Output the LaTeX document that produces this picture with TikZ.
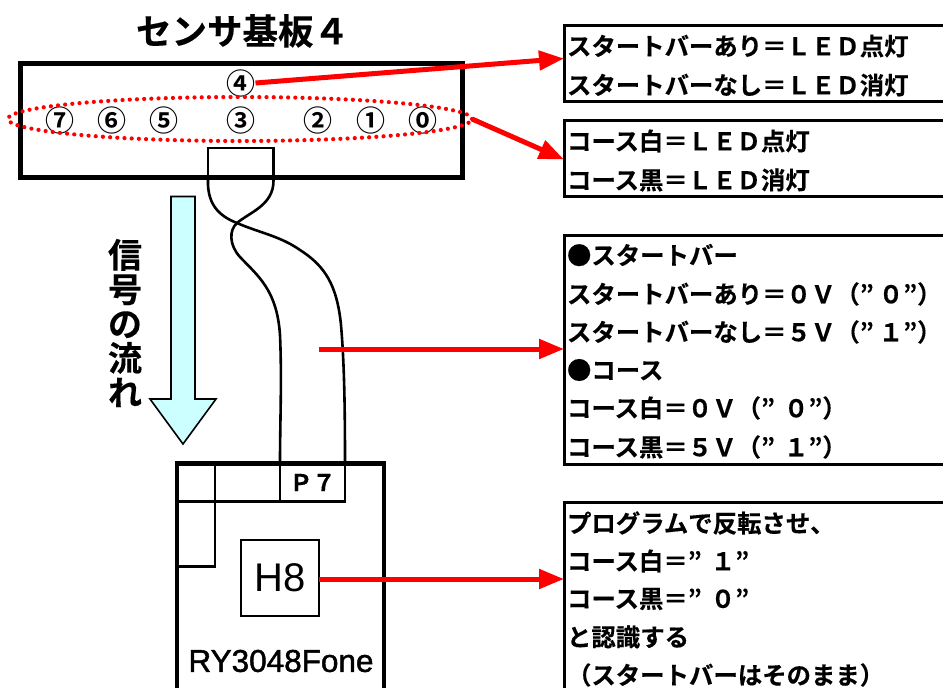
\documentclass[tikz,border=0pt]{standalone}
\usepackage{fontspec}
\usetikzlibrary{arrows.meta}
\setmainfont{Liberation Sans}
\newfontfamily\jpb[FakeBold=0.3]{Noto Sans CJK JP Bold}
\newfontfamily\jpm{Noto Sans CJK JP Bold}
\newfontfamily\lsb[FakeBold=1.5]{Liberation Sans}
\definecolor{flowcyan}{RGB}{204,255,255}
\newcommand{\qgap}{\hspace{9pt}}
\tikzset{
  every node/.style={outer sep=0pt},
  infobox/.style={draw=black,line width=3pt,anchor=north west,inner sep=0,fill=white},
  infotext/.style={anchor=west,inner sep=0,align=left,font=\jpb\fontsize{24.4}{24.4}\selectfont},
  redarrow/.style={draw=red,line width=5pt,-{Triangle[length=25pt,width=19pt]}},
  thickbox/.style={draw=black,line width=4.4pt,anchor=north west,inner sep=0},
  thinbox/.style={draw=black,line width=2.3pt,anchor=north west,inner sep=0},
  wire/.style={draw=black,line width=2.6pt},
  pin/.style={inner sep=0,font=\jpm\fontsize{29}{29}\selectfont},
}
\begin{document}
\begin{tikzpicture}[x=1pt,y=-1pt]
\useasboundingbox (0,0) rectangle (943,688);
\clip (0,0) rectangle (943,688);
% title
\node[inner sep=0,font=\jpb\fontsize{35.5}{35.5}\selectfont] (title) at (242.5,31) {センサ基板４};
% sensor board
\node[thickbox,minimum width=442pt,minimum height=114pt] (board) at (20.5,63.5) {};
\node[thinbox,minimum width=65.5pt,minimum height=29pt] (conn) at (208,148) {};
\node[pin] (s4) at (241,83) {④};
\node[pin] (s7) at (60,120) {⑦};
\node[pin] (s6) at (112,120) {⑥};
\node[pin] (s5) at (164,120) {⑤};
\node[pin] (s3) at (241,120) {③};
\node[pin] (s2) at (318,120) {②};
\node[pin] (s1) at (371,120) {①};
\node[pin] (s0) at (423,120) {⓪};
\coordinate (ringE) at (472,119);
\draw[red,line width=4.2pt,line cap=round,dash pattern=on 0pt off 7.2pt] (240,119) ++(232,0) arc[start angle=0,end angle=360,x radius=232,y radius=-22];
% flow arrow
\draw[draw=black,line width=1.6pt,fill=flowcyan] (171,196.5) -- (195,196.5) -- (195,399) -- (216,399) -- (183,444) -- (150,399) -- (171,399) -- cycle;
\node[inner sep=0,align=center,font=\jpb\fontsize{34}{34.4}\selectfont] (flow) at (125,323) {信\\号\\の\\流\\れ};
% CPU board
\node[thickbox,minimum width=207pt,minimum height=240pt] (cpu) at (177,463.5) {};
\node[thinbox,minimum width=38pt,minimum height=38pt] (c1) at (177,463.5) {};
\node[thinbox,minimum width=65pt,minimum height=38pt] (c2) at (215,463.5) {};
\node[thinbox,minimum width=65pt,minimum height=38pt,font=\jpb\fontsize{23}{23}\selectfont] (p7) at (280,463.5) {Ｐ７};
\node[thinbox,minimum width=38pt,minimum height=65pt] (c3) at (177,501.5) {};
\node[thinbox,minimum width=78pt,minimum height=76pt,font=\fontsize{40}{40}\selectfont] (h8) at (241,540) {H8};
\node[inner sep=0,font=\lsb\fontsize{31.5}{31.5}\selectfont] (ry) at (281,661) {RY3048Fone};
% wires
\coordinate (connL) at (conn.south west);
\coordinate (connR) at (conn.south east);
\draw[wire] (connL) -- ++(0,8) .. controls (209,205) and (219,216) .. (237,223) .. controls (260,233) and (280,236) .. (300,250) .. controls (325,266) and (337,285) .. (341,325) .. controls (344,360) and (345,400) .. (p7.north east);
\draw[wire] (connR) -- ++(0,3) .. controls (274,205) and (250,212) .. (237,223) .. controls (229,230) and (229,245) .. (240,257) .. controls (258,276) and (277,290) .. (280,335) .. controls (282,380) and (280,420) .. (p7.north west);
% info boxes
\node[infobox,minimum width=400pt,minimum height=76pt] (b1) at (564,25.5) {};
\node[infobox,minimum width=400pt,minimum height=76pt] (b2) at (564,120.5) {};
\node[infobox,minimum width=400pt,minimum height=229pt] (b3) at (564,235.5) {};
\node[infobox,minimum width=400pt,minimum height=220pt] (b4) at (564,502.5) {};
\node[infotext] (t11) at (567,46) {スタートバーあり＝ＬＥＤ点灯};
\node[infotext] (t12) at (567,85) {スタートバーなし＝ＬＥＤ消灯};
\node[infotext] (t21) at (567,141) {コース白＝ＬＥＤ点灯};
\node[infotext] (t22) at (567,180) {コース黒＝ＬＥＤ消灯};
\node[infotext] (t31) at (567,255) {●スタートバー};
\node[infotext] (t32) at (567,294) {スタートバーあり＝０Ｖ（”\hspace{5pt}０”）};
\node[infotext] (t33) at (567,332) {スタートバーなし＝５Ｖ（”\hspace{5pt}１”）};
\node[infotext] (t34) at (567,370) {●コース};
\node[infotext] (t35) at (567,408) {コース白＝０Ｖ（”\qgap０”）};
\node[infotext] (t36) at (567,447) {コース黒＝５Ｖ（”\qgap１”）};
\node[infotext] (t41) at (567,523) {プログラムで反転させ、};
\node[infotext] (t42) at (567,561) {コース白＝”\qgap１”};
\node[infotext] (t43) at (567,599) {コース黒＝”\qgap０”};
\node[infotext] (t44) at (567,637) {と認識する};
\node[infotext] (t45) at (567,675) {（スタートバーはそのまま）};
% red arrows
\coordinate (wireTap) at (319,349);
\draw[redarrow] (s4.east) -- ([yshift=5pt]b1.west);
\draw[redarrow] (ringE) -- ([yshift=-1pt]b2.west);
\draw[redarrow] (wireTap) -- (wireTap -| b3.west);
\draw[redarrow] ([yshift=-1pt]h8.east) -- ([yshift=-1pt]h8.east -| b4.west);
\end{tikzpicture}
\end{document}
